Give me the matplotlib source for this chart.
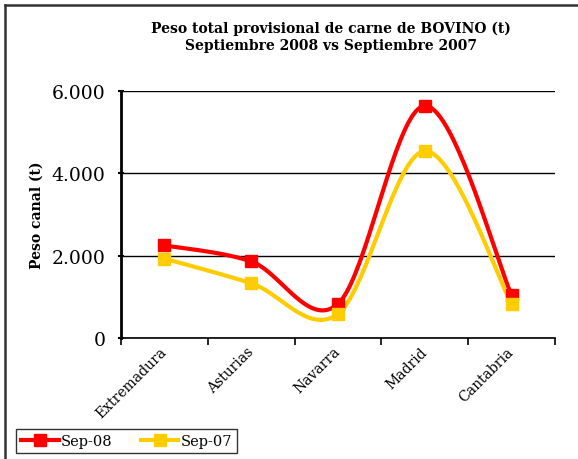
import matplotlib
matplotlib.use('Agg')
import matplotlib.pyplot as plt
from matplotlib.lines import Line2D
from matplotlib.ticker import FuncFormatter
import numpy as np

# datos
regiones = ['Extremadura', 'Asturias', 'Navarra', 'Madrid', 'Cantabria']
sep08 = [2250, 1860, 830, 5640, 1040]
sep07 = [1930, 1330, 590, 4540, 830]

plt.rcParams['font.family'] = ['DejaVu Serif']


def suavizar(x, y, n=40):
    # curva tipo Excel (Catmull-Rom en forma de Bezier)
    x = np.asarray(x, float)
    y = np.asarray(y, float)
    px = np.concatenate([[x[0]], x, [x[-1]]])
    py = np.concatenate([[y[0]], y, [y[-1]]])
    xs, ys = [], []
    t = np.linspace(0, 1, n)
    for i in range(1, len(px) - 2):
        p0 = np.array([px[i], py[i]])
        p3 = np.array([px[i + 1], py[i + 1]])
        c1 = p0 + (p3 - np.array([px[i - 1], py[i - 1]])) / 6
        c2 = p3 - (np.array([px[i + 2], py[i + 2]]) - p0) / 6
        for tt in t:
            b = ((1 - tt) ** 3) * p0 + 3 * (1 - tt) ** 2 * tt * c1 \
                + 3 * (1 - tt) * tt ** 2 * c2 + tt ** 3 * p3
            xs.append(b[0])
            ys.append(b[1])
    return xs, ys


fig = plt.figure(figsize=(5.78, 4.6), dpi=100)
ax = fig.add_axes([121 / 578, 1 - 339 / 460, (555 - 121) / 578, (339 - 92) / 460])

x = np.arange(len(regiones)) + 0.5
for vals, col, lab in [(sep08, '#FF0000', 'Sep-08'), (sep07, '#FFCC00', 'Sep-07')]:
    cx, cy = suavizar(x, vals)
    ax.plot(cx, cy, color=col, lw=3.0, solid_capstyle='round', zorder=3)
    ax.plot(x, vals, ls='none', marker='s', ms=8, color=col, zorder=4)

ax.set_xlim(0, 5)
ax.set_ylim(0, 6000)
ax.set_yticks([0, 2000, 4000, 6000])
ax.yaxis.set_major_formatter(FuncFormatter(lambda v, p: f'{int(v):,}'.replace(',', '.')))
ax.set_xticks(np.arange(6))
ax.set_xticklabels([])
ax.set_xticks(x, minor=True)
ax.set_xticklabels(regiones, minor=True, rotation=45, ha='right', va='center',
                   rotation_mode='anchor', fontsize=10)
ax.tick_params(axis='x', which='minor', length=0, pad=8)
ax.tick_params(axis='x', which='major', length=5, width=1.2, direction='out')
ax.tick_params(axis='y', length=4, width=1.5, direction='inout', labelsize=13.5, pad=9)
ax.grid(axis='y', color='black', lw=1)
ax.set_axisbelow(True)
for s in ['top', 'right']:
    ax.spines[s].set_visible(False)
ax.spines['left'].set_linewidth(2)
ax.spines['bottom'].set_linewidth(1.2)

ax.set_ylabel('Peso canal (t)', fontsize=10, fontweight='bold', labelpad=6)

fig.text(0.573, 1 - 37 / 460, 'Peso total provisional de carne de BOVINO (t)\nSeptiembre 2008 vs Septiembre 2007',
         ha='center', va='center', fontsize=10, fontweight='bold', linespacing=1.3)

leyenda = [Line2D([], [], color='#FF0000', lw=3.0, marker='s', ms=8),
           Line2D([], [], color='#FFCC00', lw=3.0, marker='s', ms=8)]
fig.legend(leyenda, ['Sep-08', 'Sep-07'], loc='lower left',
           bbox_to_anchor=(16 / 578, 1 - 454 / 460), ncol=2, fontsize=10.5,
           frameon=True, fancybox=False, edgecolor='black', handlelength=2.6,
           borderpad=0.35, columnspacing=1.9, handletextpad=0.15, borderaxespad=0)

# marco del grafico
fig.add_artist(Line2D([5 / 578, 5 / 578], [0, 1 - 6 / 460], color='#333333', lw=1.8))
fig.add_artist(Line2D([5 / 578, 1], [1 - 6 / 460, 1 - 6 / 460], color='#333333', lw=1.8))

fig.savefig('out.png', dpi=100)
